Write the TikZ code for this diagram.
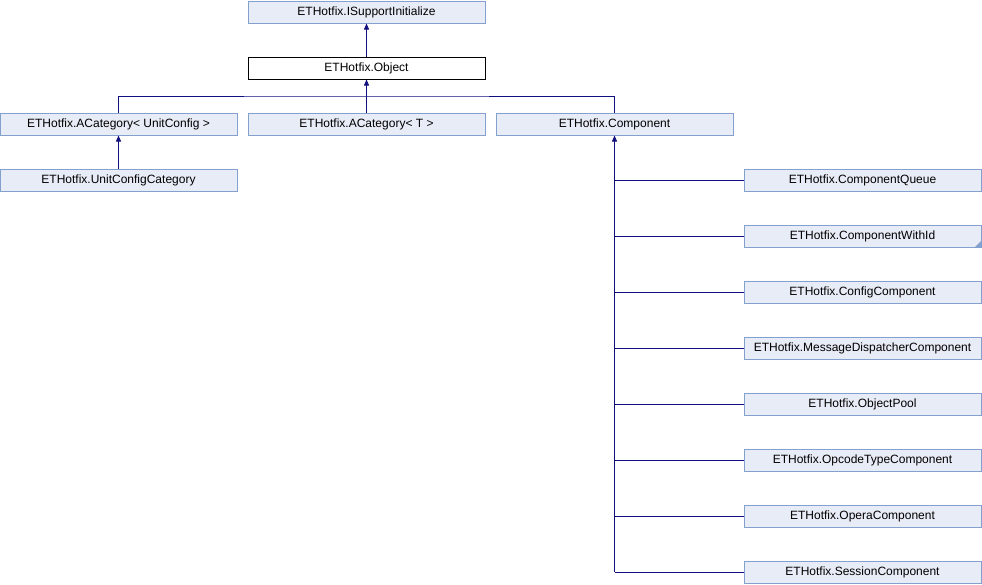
\documentclass[tikz,border=0pt]{standalone}
\usepackage{fontspec}
\setmainfont{Liberation Sans}
\usetikzlibrary{arrows.meta}
\definecolor{boxfill}{HTML}{E8ECF6}
\definecolor{boxdraw}{HTML}{84A0CE}
\definecolor{edge}{HTML}{10107F}
\tikzset{
  cls/.style={draw=boxdraw, fill=boxfill, line width=1pt, minimum width=237pt, minimum height=22pt, inner sep=0pt, font=\fontsize{12}{14}\selectfont},
  cur/.style={cls, draw=black, fill=white},
  inh/.style={draw=edge, line width=1pt},
  inharr/.style={inh, -{Triangle[length=6pt,width=5pt]}}
}
\begin{document}
\begin{tikzpicture}[x=1pt,y=-1pt]
\useasboundingbox (0,0) rectangle (982,584);
\node[cls] (isi) at (366.5,12) {ETHotfix.ISupportInitialize};
\node[cur] (obj) at (366.5,68) {ETHotfix.Object};
\node[cls] (acu) at (118.5,124) {ETHotfix.ACategory< UnitConfig >};
\node[cls] (act) at (366.5,124) {ETHotfix.ACategory< T >};
\node[cls] (comp) at (614.5,124) {ETHotfix.Component};
\node[cls] (ucc) at (118.5,180) {ETHotfix.UnitConfigCategory};
\node[cls] (cq) at (862.5,180) {ETHotfix.ComponentQueue};
\node[cls] (cwi) at (862.5,236) {ETHotfix.ComponentWithId};
\node[cls] (cc) at (862.5,292) {ETHotfix.ConfigComponent};
\node[cls] (mdc) at (862.5,348) {ETHotfix.MessageDispatcherComponent};
\node[cls] (op) at (862.5,404) {ETHotfix.ObjectPool};
\node[cls] (otc) at (862.5,460) {ETHotfix.OpcodeTypeComponent};
\node[cls] (oc) at (862.5,516) {ETHotfix.OperaComponent};
\node[cls] (sc) at (862.5,572) {ETHotfix.SessionComponent};
% more-children marker
\fill[boxdraw] ([xshift=-0.5pt,yshift=0.5pt]cwi.south east) -- ++(0,-6) -- ++(-6,6) -- cycle;
% edges
\draw[inharr] (obj.north) -- (isi.south);
\coordinate (bus) at (366.5,96);
\draw[inharr] (act.north) -- (obj.south);
\draw[inh] (acu.north) |- (bus) -| (comp.north);
\draw[inharr] (ucc.north) -- (acu.south);
\coordinate (spine) at (614.5,572);
\draw[inh] (sc.west) -- (spine);
\draw[inharr] (spine) -- (comp.south);
\foreach \n in {cq,cwi,cc,mdc,op,otc,oc}{
  \draw[inh] (\n.west) -- (\n.west -| spine);
}
\end{tikzpicture}
\end{document}
